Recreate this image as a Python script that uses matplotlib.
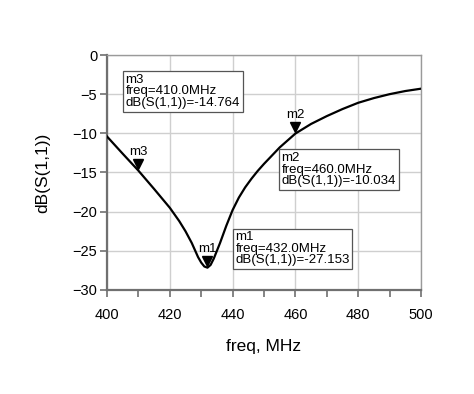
import numpy as np
import matplotlib.pyplot as plt
from matplotlib.transforms import ScaledTranslation

plt.rcParams['font.family'] = ['Liberation Sans', 'DejaVu Sans']

# S11 curve
freq = [400, 405, 410, 415, 420, 423, 425, 427, 428, 429, 430, 431, 432,
        433, 434, 435, 436, 437, 438, 440, 442, 444, 446, 448, 450, 455, 460,
        465, 470, 475, 480, 485, 490, 495, 500]
s11_db = [-10.4, -12.6, -14.76, -17.1, -19.5, -21.2, -22.5, -24.0, -24.9,
          -25.8, -26.5, -27.0, -27.15, -26.8, -26.0, -25.0, -24.0, -22.9,
          -21.8, -19.8, -18.2, -16.9, -15.8, -14.8, -13.9, -11.8, -10.03,
          -8.8, -7.8, -6.9, -6.1, -5.5, -5.0, -4.6, -4.3]

# markers
mk_names = ['m1', 'm2', 'm3']
mk_freq = [432.0, 460.0, 410.0]
mk_db = [-27.153, -10.034, -14.764]
# where each readout text starts (upper left, data coords)
box_x = [440.9, 455.6, 405.9]
box_y = [-22.5, -12.4, -2.4]

fig = plt.figure(figsize=(4.74, 3.94), dpi=100)
ax = fig.add_axes([0.2257, 0.264, 0.6625, 0.5964])

ax.plot(freq, s11_db, color='black', lw=1.6, zorder=3)

# triangles sit just above the curve, labels above them
off = ax.transData + ScaledTranslation(0, 4.5 / 72, fig.dpi_scale_trans)
ax.plot(mk_freq, mk_db, 'v', color='black', ms=7, transform=off, zorder=4)
for n, f, d in zip(mk_names, mk_freq, mk_db):
    ax.annotate(n, (f, d), xytext=(0, 9), textcoords='offset points',
                ha='center', va='bottom', fontsize=9.5, zorder=5)

for n, f, d, bx, by in zip(mk_names, mk_freq, mk_db, box_x, box_y):
    txt = "%s\nfreq=%.1fMHz\ndB(S(1,1))=%.3f" % (n, f, d)
    ax.text(bx, by, txt, ha='left', va='top', fontsize=9.5, linespacing=0.95,
            bbox=dict(boxstyle='square,pad=0.2', fc='white', ec='#555555', lw=0.9),
            zorder=6)

ax.set_xlim(400, 500)
ax.set_ylim(-30, 0)
ax.set_xticks(np.arange(400, 501, 20))
ax.set_xticks(np.arange(410, 500, 20), minor=True)
ax.set_yticks(np.arange(-30, 1, 5))
ax.grid(True, color='#cfcfcf', lw=1.0)
ax.set_axisbelow(True)

for s in ['left', 'bottom']:
    ax.spines[s].set_color('#707070')
    ax.spines[s].set_linewidth(1.6)
for s in ['top', 'right']:
    ax.spines[s].set_color('#9a9a9a')
    ax.spines[s].set_linewidth(1.0)

ax.tick_params(axis='x', which='major', length=5, width=1.2, color='#707070',
               labelsize=10.5, pad=8)
ax.tick_params(axis='x', which='minor', length=5, width=1.2, color='#707070')
ax.tick_params(axis='y', length=5, width=1.2, color='#707070', labelsize=10.5, pad=2)

ax.set_xlabel("freq, MHz", fontsize=12.5, labelpad=12)
ax.set_ylabel("dB(S(1,1))", fontsize=12.5, labelpad=16)

fig.savefig("out.png", dpi=100, facecolor='white')
